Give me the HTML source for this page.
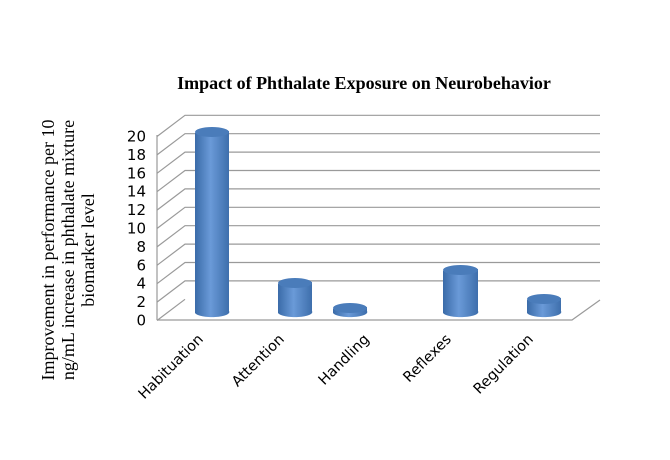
<!DOCTYPE html>
<html><head><style>body{margin:0;background:#fff}svg{display:block}</style></head><body>
<svg width="670" height="460" xmlns="http://www.w3.org/2000/svg">
<defs>
<linearGradient id="cyl" x1="0" x2="1" y1="0" y2="0">
<stop offset="0" stop-color="#3a6ba8"/><stop offset="0.45" stop-color="#6a9ad8"/><stop offset="1" stop-color="#3d6eab"/>
</linearGradient>
</defs>
<text x="364" y="89" font-family="Liberation Serif, serif" font-weight="bold" font-size="18" text-anchor="middle">Impact of Phthalate Exposure on Neurobehavior</text>
<g font-family="Liberation Serif, serif" font-size="18" text-anchor="middle" transform="translate(75,250) rotate(-90)">
<text x="0" y="-21">Improvement in performance per 10</text>
<text x="0" y="-1">ng/mL increase in phthalate mixture</text>
<text x="0" y="19">biomarker level</text>
</g>
<g stroke="#9a9a9a" stroke-width="1.2" fill="none">
<path d="M157,320 L572,320 L600,300"/>
<path d="M157,320 L157,135"/>
</g>
<g id="grid" stroke="#9a9a9a" stroke-width="1.2" fill="none"></g>
<g font-family="DejaVu Sans, sans-serif" font-size="15" fill="#000" text-anchor="end" id="ticks"></g>
<g id="bars"></g>
<g font-family="DejaVu Sans, sans-serif" font-size="14.5" text-anchor="end">
<text transform="translate(204,340) rotate(-45)">Habituation</text>
<text transform="translate(285,340) rotate(-45)">Attention</text>
<text transform="translate(370,340) rotate(-45)">Handling</text>
<text transform="translate(452,340) rotate(-45)">Reflexes</text>
<text transform="translate(534,340) rotate(-45)">Regulation</text>
</g>
<script>
var g=document.getElementById('grid'),t=document.getElementById('ticks'),ns='http://www.w3.org/2000/svg';
for(var i=0;i<=10;i++){var yb=299.3-i*18.4,yf=320.5-i*18.4;
var p=document.createElementNS(ns,'path');p.setAttribute('d','M157,'+yf+' L185,'+yb+(i>0?' L600,'+yb:''));g.appendChild(p);
var tx=document.createElementNS(ns,'text');tx.setAttribute('x',146);tx.setAttribute('y',yf+5);tx.textContent=i*2;t.appendChild(tx);}
var bars=[[195,229,133],[278,312,284],[333,367,309],[443,478,271],[527,561,300]];
var bg=document.getElementById('bars');
bars.forEach(function(b){var x1=b[0],x2=b[1],top=b[2],bot=313,rx=(x2-x1)/2,cx=(x1+x2)/2,ry=5;
var p=document.createElementNS(ns,'path');
p.setAttribute('d','M'+x1+','+top+' L'+x1+','+bot+' A'+rx+','+ry+' 0 0 0 '+x2+','+(bot-2)+' L'+x2+','+(top-2)+' Z');
p.setAttribute('fill','url(#cyl)');bg.appendChild(p);
var e=document.createElementNS(ns,'ellipse');e.setAttribute('cx',cx);e.setAttribute('cy',top-1);e.setAttribute('rx',rx);e.setAttribute('ry',ry);
e.setAttribute('fill','#4a7cba');bg.appendChild(e);});
</script>
</svg>
</body></html>
